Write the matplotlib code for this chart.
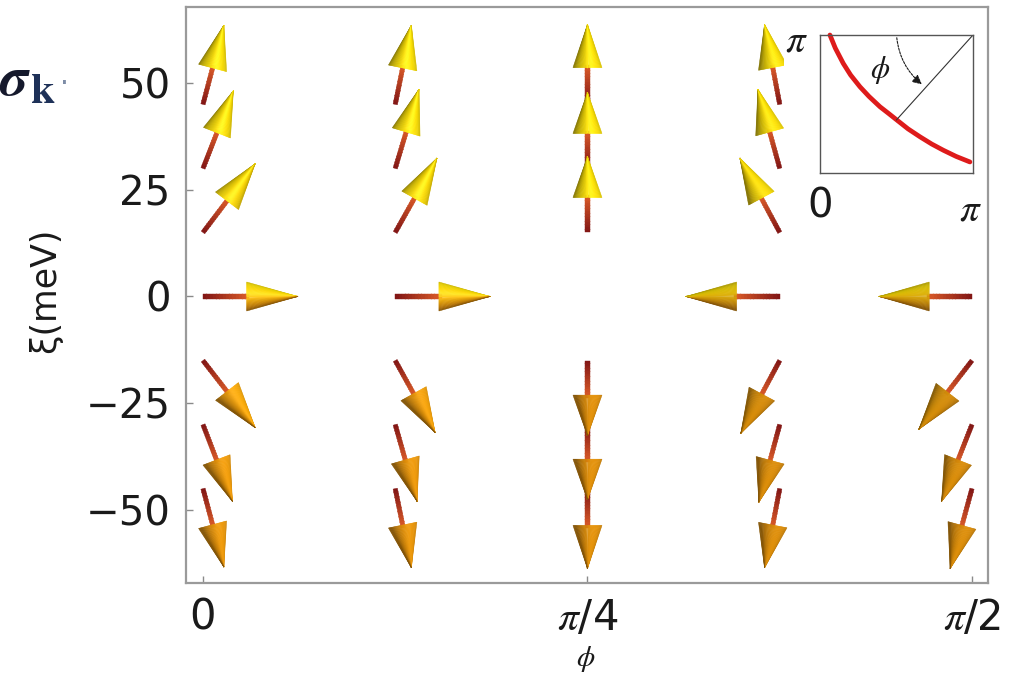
import numpy as np
import matplotlib
matplotlib.use("Agg")
import matplotlib.pyplot as plt
from matplotlib.patches import Polygon, Rectangle

plt.rcParams['font.family'] = 'DejaVu Sans'
plt.rcParams['mathtext.fontset'] = 'custom'
plt.rcParams['mathtext.rm'] = 'DejaVu Sans'
plt.rcParams['mathtext.it'] = 'STIXGeneral:italic'
plt.rcParams['mathtext.bf'] = 'DejaVu Sans:bold'

W, H, DPI = 1013, 676, 100

# ---- data -------------------------------------------------------------
phi = [0.0, np.pi / 8, np.pi / 4, 3 * np.pi / 8, np.pi / 2]
xi = [45, 30, 15, 0, -15, -30, -45]

# in-plane (horizontal) and out-of-plane (vertical) pseudo-spin components,
# one list per phi column, ordered like xi
spin_x = [
    [0.22, 0.32, 0.55, 1.00, 0.55, 0.31, 0.22],
    [0.17, 0.25, 0.44, 1.00, 0.42, 0.23, 0.17],
    [0.00, 0.00, 0.00, 0.00, 0.00, 0.00, 0.00],
    [-0.16, -0.23, -0.42, -0.99, -0.41, -0.22, -0.16],
    [-0.22, -0.32, -0.56, -0.98, -0.56, -0.32, -0.23],
]
spin_z = [
    [0.99, 0.97, 0.86, 0.00, -0.84, -0.96, -0.98],
    [0.99, 0.99, 0.93, 0.00, -0.90, -0.96, -0.99],
    [1.00, 0.95, 0.95, 0.00, -0.94, -0.94, -1.00],
    [1.00, 0.99, 0.93, 0.00, -0.91, -0.97, -0.99],
    [0.99, 0.97, 0.86, 0.00, -0.86, -0.96, -1.00],
]

x_ticks = [0, np.pi / 4, np.pi / 2]
x_tick_labels = ['0', r'$\pi$/4', r'$\pi$/2']
y_ticks = [50, 25, 0, -25, -50]

# Fermi surface in the inset, in units of pi
fs_kx = [0.065, 0.10, 0.152, 0.20, 0.261, 0.32, 0.392, 0.45, 0.501,
         0.575, 0.654, 0.73, 0.806, 0.89, 0.98]
fs_ky = [1.0, 0.905, 0.794, 0.71, 0.625, 0.555, 0.48, 0.43, 0.385,
         0.32, 0.262, 0.21, 0.165, 0.12, 0.08]
node_k = (0.50, 0.385)

# ---- styling ----------------------------------------------------------
LX, LZ = 95.0, 80.0          # arrow length (px) for a unit component
HEAD_FRAC = 0.54
HEAD_HW = 14.5               # half width of the cone base (px)
SHAFT_HW = 2.2
YELLOW = np.array([0.95, 0.85, 0.02])
ORANGE = np.array([0.94, 0.60, 0.04])
TAIL_COL = np.array([0.50, 0.08, 0.08])
NECK_COL = np.array([0.86, 0.36, 0.16])
LIGHT = np.array([0.55, 0.35, 1.0]) / np.linalg.norm([0.55, 0.35, 1.0])
HALF = (LIGHT + np.array([0, 0, 1.0]))
HALF = HALF / np.linalg.norm(HALF)


def fx(px):
    return px / W


def fy(py):
    return 1 - py / H


fig = plt.figure(figsize=(W / DPI, H / DPI), dpi=DPI)
ax = fig.add_axes([fx(186), fy(583), (988 - 186) / W, (583 - 7) / H])
ax.set_xlim(-0.0347, 1.6035)
ax.set_ylim(-67.1, 67.8)
ax.set_autoscale_on(False)

for s in ax.spines.values():
    s.set_color('#9a9a9a')
    s.set_linewidth(1.6)

ax.set_xticks(x_ticks)
ax.set_xticklabels(x_tick_labels)
ax.set_yticks(y_ticks)
ax.set_yticklabels([f'{v}' if v >= 0 else f'\u2212{-v}' for v in y_ticks])
ax.tick_params(axis='both', direction='in', length=5, width=1.0,
               color='#8a8a8a', labelcolor='#1a1a1a')
ax.tick_params(axis='y', labelsize=29, pad=11)
ax.tick_params(axis='x', labelsize=30, pad=10)

inv = ax.transData.inverted()


def cone_color(d, p, t, alpha):
    r = np.array([t * p[0], t * p[1], np.sqrt(max(0.0, 1 - t * t))])
    n = np.cos(alpha) * r + np.sin(alpha) * np.array([d[0], d[1], 0.0])
    diff = max(float(n @ LIGHT), 0.0)
    spec = 0.12 * max(float(n @ HALF), 0.0) ** 20
    w = np.clip(0.5 + 0.5 * d[1] + 0.6 * r[1] * (1 - abs(d[1])), 0, 1)
    base = (1 - w) * ORANGE + w * YELLOW
    return np.clip(base * (0.55 + 0.50 * diff) + spec, 0, 1)


def draw_arrow(x0, y0, sx, sz):
    v = np.array([sx * LX, sz * LZ])
    L = np.hypot(*v)
    if L == 0:
        return
    p0 = ax.transData.transform((x0, y0))
    d = v / L
    p = np.array([d[1], -d[0]])
    tip = p0 + v
    hl = HEAD_FRAC * L
    base = tip - d * hl
    alpha = np.arctan(HEAD_HW / hl)
    # shaft with a colour ramp from the tail to the cone
    nseg = 14
    sl = L - hl + 2
    for i in range(nseg):
        a = p0 + d * (sl * i / nseg)
        b = p0 + d * (sl * (i + 1) / nseg + 0.6)
        q = np.array([a - p * SHAFT_HW, b - p * SHAFT_HW,
                      b + p * SHAFT_HW, a + p * SHAFT_HW])
        f = (i + 0.5) / nseg
        c = (1 - f) * TAIL_COL + f * NECK_COL
        ax.add_patch(Polygon(inv.transform(q), closed=True, facecolor=c,
                             edgecolor=c, linewidth=0.3, zorder=3))
    # shaded cone head, built from thin slices of constant shading
    nsl = 30
    ts = np.linspace(-1, 1, nsl + 1)
    for i in range(nsl):
        t0, t1 = ts[i], ts[i + 1]
        tri = np.array([tip, base + p * HEAD_HW * t0, base + p * HEAD_HW * t1])
        c = cone_color(d, p, 0.5 * (t0 + t1), alpha)
        ax.add_patch(Polygon(inv.transform(tri), closed=True, facecolor=c,
                             edgecolor=c, linewidth=0.35, zorder=4))


for j, ph in enumerate(phi):
    for i, e in enumerate(xi):
        draw_arrow(ph, e, spin_x[j][i], spin_z[j][i])

# axis titles
fig.text(fx(45), fy(290), '\u03be(meV)', rotation=90, fontsize=25,
         ha='center', va='center', color='#1a1a1a')
fig.text(fx(586), fy(659), r'$\phi$', fontsize=21, ha='center',
         va='center', color='#1a1a1a')

# bold sigma_k label at the upper left
fig.text(fx(27), fy(95), '\u03c3', family='STIXGeneral', weight='bold',
         style='italic', fontsize=40, ha='right', va='baseline',
         color='#15192c')
fig.text(fx(31), fy(103), 'k', family='STIXGeneral', weight='bold',
         fontsize=31, ha='left', va='baseline', color='#1e3158')
fig.text(fx(64), fy(92), '\u00b7', fontsize=20, ha='center',
         va='baseline', color='#7d8ca6')

# inset: Fermi surface sketch on a white panel
fig.add_artist(Rectangle((fx(784), fy(240)), (986 - 784) / W,
                         (240 - 9) / H, transform=fig.transFigure,
                         facecolor='white', edgecolor='none', zorder=1.5))
ins = fig.add_axes([fx(820), fy(173), (973 - 820) / W, (173 - 35) / H])
ins.set_zorder(2)
ins.set_xlim(0, 1)
ins.set_ylim(0, 1)
ins.set_xticks([])
ins.set_yticks([])
for s in ins.spines.values():
    s.set_color('#555555')
    s.set_linewidth(1.0)
ins.plot(fs_kx, fs_ky, color='#de1b1b', lw=3.4, solid_capstyle='round',
         solid_joinstyle='round', clip_on=False)
ins.plot([1.0, node_k[0]], [1.0, node_k[1]], color='#333333', lw=0.8)
ins.annotate('', xy=(0.68, 0.63), xytext=(0.5, 1.0),
             arrowprops=dict(arrowstyle='-|>', color='#1a1a1a', lw=0.8,
                             linestyle=(0, (2, 1.2)), mutation_scale=14,
                             connectionstyle='arc3,rad=0.22'))
ins.text(0.39, 0.75, r'$\phi$', fontsize=22, ha='center', va='center',
         color='#1a1a1a')
fig.text(fx(796), fy(41), r'$\pi$', fontsize=28, ha='center', va='center',
         zorder=3, color='#1a1a1a')
fig.text(fx(820), fy(206), '0', fontsize=29, ha='center', va='center',
         zorder=3, color='#1a1a1a')
fig.text(fx(970), fy(210), r'$\pi$', fontsize=28, ha='center', va='center',
         zorder=3, color='#1a1a1a')

fig.savefig('out.png', dpi=DPI)
